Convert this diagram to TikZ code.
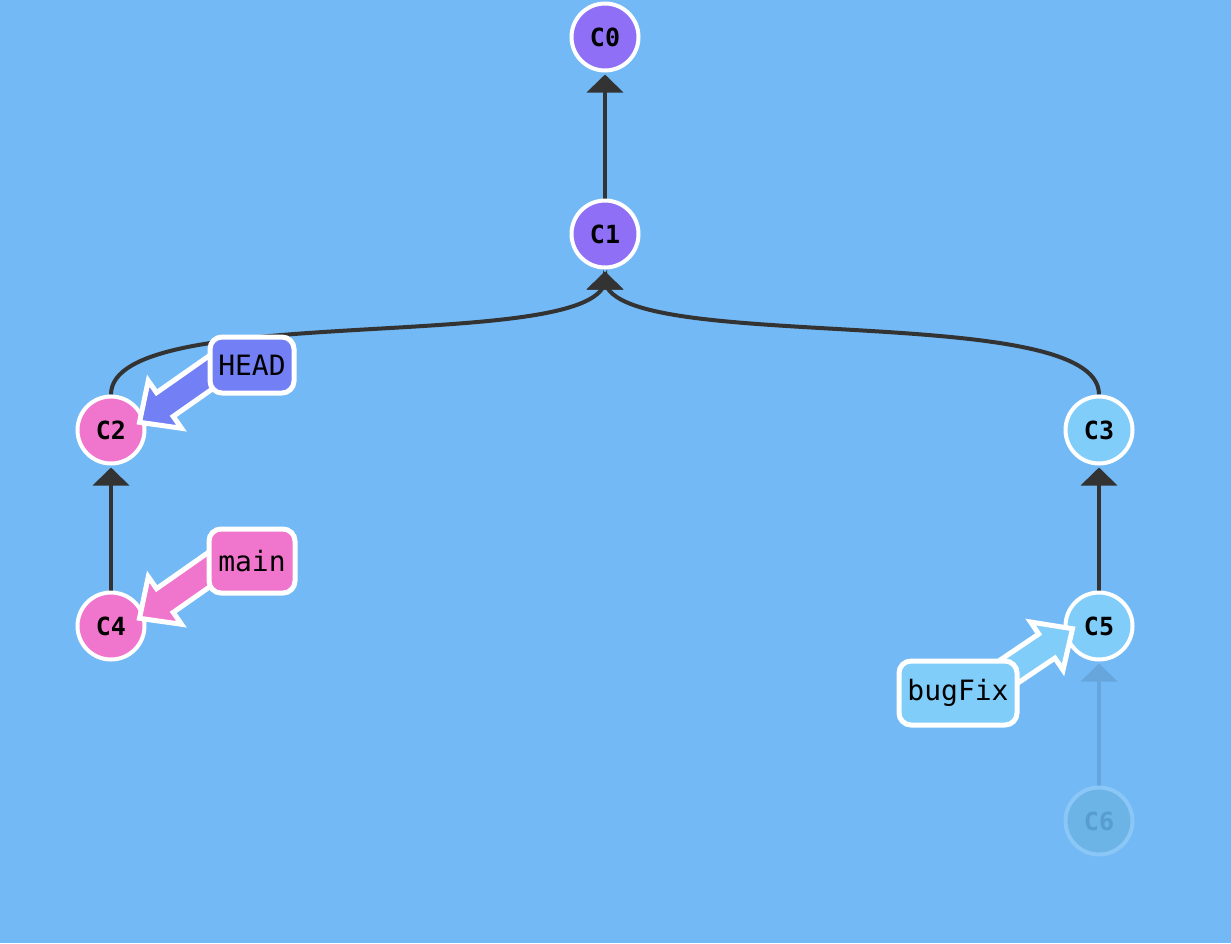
\documentclass[tikz,border=0pt]{standalone}
\usepackage{fontspec}
\newfontfamily\monofont{DejaVu Sans Mono}
\usetikzlibrary{arrows.meta}
\pgfdeclarelayer{bglayer}
\pgfsetlayers{bglayer,main}
\definecolor{bg}{RGB}{114,185,245}
\definecolor{purp}{RGB}{142,111,245}
\definecolor{pinkc}{RGB}{240,117,204}
\definecolor{lblue}{RGB}{128,205,250}
\definecolor{headc}{RGB}{114,127,245}
\definecolor{edgec}{RGB}{51,51,51}
\definecolor{fadefill}{RGB}{108,180,230}
\definecolor{fadering}{RGB}{138,198,246}
\definecolor{fadetext}{RGB}{88,156,208}
\definecolor{fadeedge}{RGB}{102,166,220}
\newcommand\myfatarrow[3]{%
  \begin{scope}[shift={#1}, rotate=#2]
    \filldraw[fat, fill=#3] (0,0) -- (-31,29) -- (-31,14.5) -- (-105,14.5) -- (-105,-14.5) -- (-31,-14.5) -- (-31,-29) -- cycle;
  \end{scope}}
\begin{document}
\begin{tikzpicture}[x=1pt,y=-1pt,
  commit/.style={circle, draw=white, line width=4pt, minimum size=67pt, inner sep=0pt,
    font=\monofont\bfseries\fontsize{25}{30}\selectfont},
  edge/.style={draw=edgec, line width=4pt, -{Triangle[length=18pt,width=36pt]}, shorten >=2pt},
  branch/.style={draw=white, line width=5pt, rounded corners=12pt, inner sep=0pt,
    font=\monofont\fontsize{28}{33}\selectfont},
  fat/.style={draw=white, line width=5pt, miter limit=10}
]
\useasboundingbox (0,0) rectangle (1231,943);

% commit nodes
\node[commit, fill=purp] (C0) at (605,37) {C0};
\node[commit, fill=purp] (C1) at (605,234) {C1};
\node[commit, fill=pinkc] (C2) at (111,430) {C2};
\node[commit, fill=lblue] (C3) at (1099,430) {C3};
\node[commit, fill=pinkc] (C4) at (111,626) {C4};
\node[commit, fill=lblue] (C5) at (1099,626) {C5};
\node[commit, draw=fadering, fill=fadefill, text=fadetext] (C6) at (1099,821) {C6};

% background and edges
\begin{pgfonlayer}{bglayer}
\fill[bg] (0,0) rectangle (1231,943);
\draw[edge] (C1.north) -- (C0.south);
\draw[edge] (C2.north) .. controls (111,300) and (590,355) .. (605,282) -- (C1.south);
\draw[edge] (C3.north) .. controls (1099,300) and (620,355) .. (605,282) -- (C1.south);
\draw[edge] (C4.north) -- (C2.south);
\draw[edge] (C5.north) -- (C3.south);
\draw[edge, draw=fadeedge, fill=fadeedge] (C6.north) -- (C5.south);
\end{pgfonlayer}

% branch arrows
\myfatarrow{(139.5,422.3)}{215}{headc}
\myfatarrow{(139.5,618.3)}{215}{pinkc}
\myfatarrow{(1072.5,628.7)}{34}{lblue}

% branch labels
\node[branch, fill=headc, minimum width=84pt, minimum height=56pt] (HEAD) at (252,365) {HEAD};
\node[branch, fill=pinkc, minimum width=86pt, minimum height=64pt] (main) at (252,561) {main};
\node[branch, fill=lblue, minimum width=118pt, minimum height=64pt] (bugFix) at (958,693) {bugFix};
\end{tikzpicture}
\end{document}
